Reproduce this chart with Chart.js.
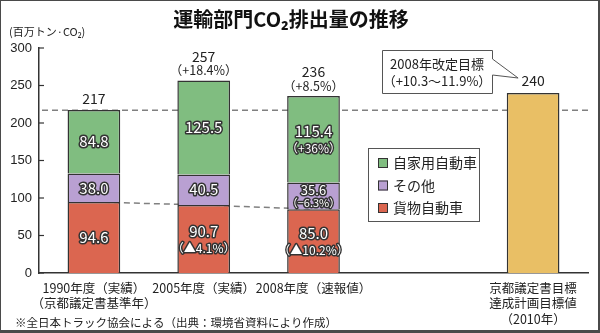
<!DOCTYPE html>
<html><head><meta charset="utf-8">
<script src="https://cdn.jsdelivr.net/npm/chart.js@4.4.1/dist/chart.umd.min.js"></script>
<style>html,body{margin:0;padding:0;background:#fff;} canvas{display:block;}</style>
</head><body>
<canvas id="c" width="600" height="333"></canvas>
<script>
const categories = [["1990年度（実績）","（京都議定書基準年）"],["2005年度（実績）"],["2008年度（速報値）"],[""],["京都議定書目標","達成計画目標値","（2010年）"]];
const freight = [94.6, 90.7, 85.0, null, null];
const other = [38.0, 40.5, 35.6, null, null];
const privateCars = [84.8, 125.5, 115.4, null, null];
const target = [null, null, null, null, 240];
const totals = [217, 257, 236, null, 240];
const totalNotes = ["", "（+18.4%）", "（+8.5%）", "", ""];
const freightNotes = ["", "（▲4.1%）", "（▲10.2%）", "", ""];
const otherNotes = ["", "", "（−6.3%）", "", ""];
const privateNotes = ["", "", "（+36%）", "", ""];
const baseline1990 = 217;
const freightTrend = [94.6, 90.7, 85.0, null, null];

const JP = '"Noto Sans CJK JP", "Noto Sans", sans-serif';
const colors = {green:'#80bd80', purple:'#b9a0d2', red:'#db6650', orange:'#e9bf65', edge:'#333333'};

function outlined(ctx, text, x, y, size) {
  ctx.font = size + 'px ' + JP;
  ctx.textAlign = 'center'; ctx.textBaseline = 'middle';
  ctx.lineJoin = 'round'; ctx.lineWidth = 3; ctx.strokeStyle = '#333';
  ctx.strokeText(text, x, y);
  ctx.fillStyle = '#fff';
  ctx.fillText(text, x, y);
}

const deco = {
  id: 'deco',
  beforeDatasetsDraw(chart) {
    const {ctx, chartArea, scales:{y}} = chart;
    const py = y.getPixelForValue(baseline1990);
    ctx.save();
    ctx.strokeStyle = '#808080'; ctx.lineWidth = 1.5; ctx.setLineDash([6,4]);
    ctx.beginPath(); ctx.moveTo(chartArea.left + 3, py); ctx.lineTo(chartArea.right, py); ctx.stroke();
    ctx.restore();
  },
  afterDatasetsDraw(chart) {
    const {ctx, chartArea, scales:{x, y}} = chart;
    ctx.save();
    const segs = [[0, freight, freightNotes],[1, other, otherNotes],[2, privateCars, privateNotes]];
    segs.forEach(([di, vals, notes]) => {
      const meta = chart.getDatasetMeta(di);
      vals.forEach((v, i) => {
        if (v == null) return;
        const el = meta.data[i];
        const cy = (el.y + el.base) / 2;
        const txt = v.toFixed(1);
        if (notes[i]) {
          const small = (el.base - el.y) < 35;
          if (small) {
            outlined(ctx, txt, el.x, cy - 6, 13);
            outlined(ctx, notes[i], el.x, cy + 6.5, 11);
          } else {
            outlined(ctx, txt, el.x, cy - 8, 15);
            outlined(ctx, notes[i], el.x, cy + 9, 12);
          }
        } else {
          outlined(ctx, txt, el.x, cy, 15);
        }
      });
    });
    ctx.fillStyle = '#222'; ctx.textAlign = 'center'; ctx.textBaseline = 'middle';
    totals.forEach((t, i) => {
      if (t == null) return;
      const px = x.getPixelForValue(i);
      const top = y.getPixelForValue(t);
      ctx.font = '14px ' + JP;
      if (totalNotes[i]) {
        ctx.fillText(String(t), px, top - 24);
        ctx.font = '12.5px ' + JP;
        ctx.fillText(totalNotes[i], px, top - 10);
      } else {
        ctx.fillText(String(t), px, top - 12);
      }
    });
    ctx.strokeStyle = '#333'; ctx.lineWidth = 1.2;
    y.ticks.forEach(tk => {
      const py = y.getPixelForValue(tk.value);
      ctx.beginPath(); ctx.moveTo(chartArea.left, py); ctx.lineTo(chartArea.left + 5, py); ctx.stroke();
    });
    ctx.restore();
  },
  afterDraw(chart) {
    const {ctx, chartArea, scales:{x, y}} = chart;
    ctx.save();
    const lx = 368, ly = 148, lw = 111, lh = 73;
    ctx.fillStyle = '#fff'; ctx.fillRect(lx, ly, lw, lh);
    ctx.strokeStyle = '#555'; ctx.lineWidth = 1; ctx.strokeRect(lx + 0.5, ly + 0.5, lw, lh);
    const items = [2, 1, 0];
    items.forEach((di, k) => {
      const ds = chart.data.datasets[di];
      const cy = ly + 15 + k * 22.5;
      ctx.fillStyle = ds.backgroundColor; ctx.fillRect(378, cy - 5, 10, 10);
      ctx.strokeStyle = '#333'; ctx.lineWidth = 1; ctx.strokeRect(378.5, cy - 4.5, 9, 9);
      ctx.fillStyle = '#222'; ctx.font = '14px ' + JP; ctx.textAlign = 'left'; ctx.textBaseline = 'middle';
      ctx.fillText(ds.label, 393, cy);
    });
    const bx = 382, by = 50, bw = 110, bh = 43;
    const tipX = x.getPixelForValue(4) - 15, tipY = y.getPixelForValue(240) - 15;
    ctx.beginPath();
    ctx.moveTo(bx + 0.5, by + 0.5);
    ctx.lineTo(bx + bw + 0.5, by + 0.5);
    ctx.lineTo(bx + bw + 0.5, by + 9);
    ctx.lineTo(tipX, tipY);
    ctx.lineTo(bx + bw + 0.5, by + 25);
    ctx.lineTo(bx + bw + 0.5, by + bh + 0.5);
    ctx.lineTo(bx + 0.5, by + bh + 0.5);
    ctx.closePath();
    ctx.fillStyle = '#fff'; ctx.fill();
    ctx.strokeStyle = '#555'; ctx.lineWidth = 1; ctx.stroke();
    ctx.fillStyle = '#222'; ctx.textAlign = 'center'; ctx.textBaseline = 'middle';
    ctx.font = '13px ' + JP;
    ctx.fillText('2008年改定目標', bx + bw / 2, by + 14);
    ctx.fillText('（+10.3〜11.9%）', bx + bw / 2, by + 31);
    ctx.font = 'bold 20px ' + JP; ctx.fillStyle = '#111';
    ctx.fillText('運輸部門CO₂排出量の推移', 291, 19);
    ctx.font = '11px ' + JP; ctx.textAlign = 'left'; ctx.fillStyle = '#222';
    ctx.fillText('(百万トン·CO₂)', 9, 32);
    ctx.font = '11.5px ' + JP;
    ctx.fillText('※全日本トラック協会による（出典：環境省資料により作成）', 15, 323);
    ctx.fillStyle = '#4a4a4a';
    ctx.fillRect(0, 0, 600, 1);
    ctx.fillRect(0, 0, 1, 333);
    ctx.fillRect(598, 0, 2, 333);
    ctx.fillRect(0, 330, 600, 3);
    ctx.restore();
  }
};

new Chart(document.getElementById('c'), {
  type: 'bar',
  data: {
    labels: categories,
    datasets: [
      {label:'貨物自動車', data: freight, backgroundColor: colors.red, borderColor: colors.edge, borderWidth: 1.5, stack:'s', order: 1},
      {label:'その他', data: other, backgroundColor: colors.purple, borderColor: colors.edge, borderWidth: 1.5, stack:'s', order: 1},
      {label:'自家用自動車', data: privateCars, backgroundColor: colors.green, borderColor: colors.edge, borderWidth: 1.5, stack:'s', order: 1},
      {label:'目標', data: target, backgroundColor: colors.orange, borderColor: colors.edge, borderWidth: 1.5, stack:'s', order: 1},
      {type:'line', label:'trend', data: freightTrend, borderColor:'#808080', borderWidth: 1.5, borderDash:[6,4], pointRadius: 0, fill: false, stack:'trend', order: 5, spanGaps: false}
    ]
  },
  options: {
    responsive: false,
    animation: false,
    devicePixelRatio: 1,
    layout: {padding: {top: 48, right: 12, left: 0, bottom: 0}},
    plugins: {legend: {display: false}, tooltip: {enabled: false}, title: {display: false}},
    datasets: {bar: {categoryPercentage: 1, barPercentage: 0.48}},
    scales: {
      x: {
        stacked: true,
        grid: {display: false, drawTicks: false},
        border: {display: true, color: '#333', width: 1.5},
        ticks: {autoSkip: false, maxRotation: 0, padding: 7, color: '#222', font: {family: JP, size: 12.5, lineHeight: 1.24}},
        afterFit(s) { s.height = 60; }
      },
      y: {
        stacked: true,
        min: 0, max: 300,
        grid: {display: false, drawTicks: false},
        border: {display: true, color: '#333', width: 1.5},
        ticks: {stepSize: 50, padding: 7, color: '#222', font: {family: '"Liberation Sans", Arial, sans-serif', size: 13}},
        afterFit(s) { s.width = 39; }
      }
    }
  },
  plugins: [deco]
});
</script>
</body></html>
